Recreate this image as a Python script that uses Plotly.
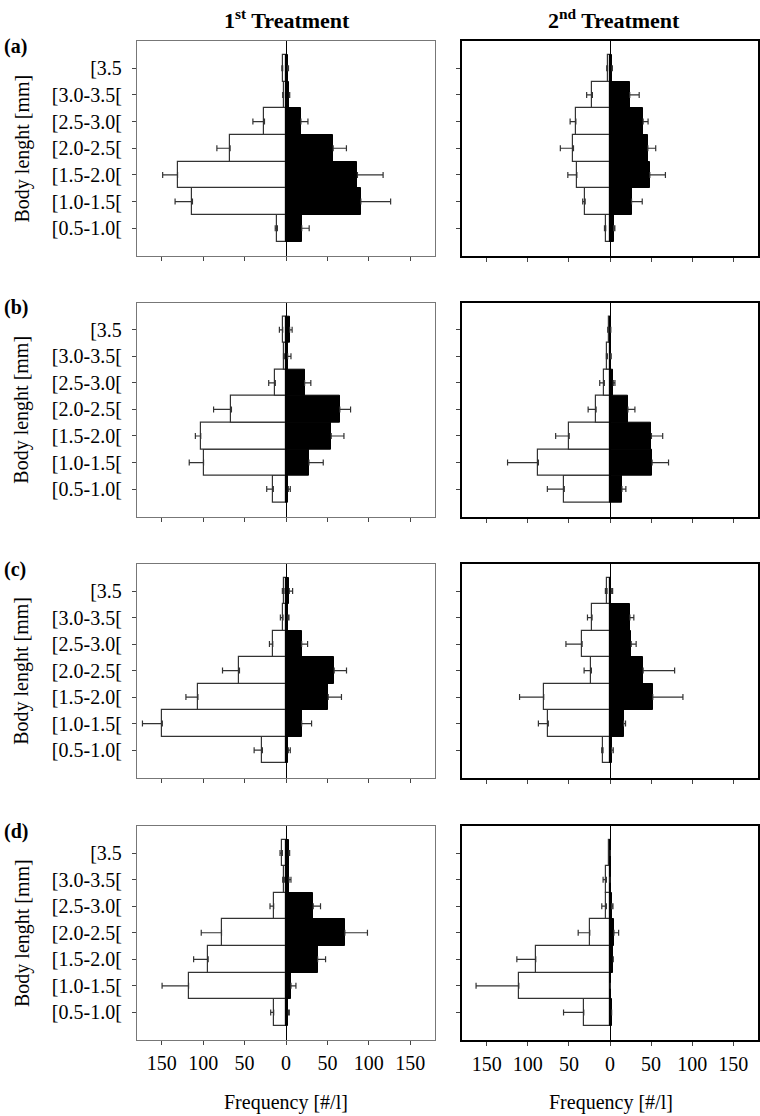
import plotly.graph_objects as go
from plotly.subplots import make_subplots

# Categories, bottom to top
categories = ["[0.5-1.0[", "[1.0-1.5[", "[1.5-2.0[", "[2.0-2.5[", "[2.5-3.0[", "[3.0-3.5[", "[3.5"]
row_labels = ["(a)", "(b)", "(c)", "(d)"]
col_titles = ["1<sup>st</sup> Treatment", "2<sup>nd</sup> Treatment"]
tick_vals = [-150, -100, -50, 0, 50, 100, 150]
tick_text = ["150", "100", "50", "0", "50", "100", "150"]

# Row (a)
a1_white = [10.4, 113, 131, 67.5, 26, 3, 4]
a1_white_err = [2.6, 21, 18, 16, 14, 1, 1]
a1_black = [19, 90.4, 86.3, 57, 18, 4, 2]
a1_black_err = [9, 36, 31, 16, 8.5, 0.5, 1]
a2_white = [5.2, 30.2, 40.3, 44.4, 41.5, 21.4, 3]
a2_white_err = [1.5, 3, 11, 16, 7, 7, 1]
a2_black = [4.4, 26.2, 48.4, 46, 40.3, 24, 2.4]
a2_black_err = [1.5, 13, 19, 9.6, 6, 11.5, 0.5]

# Row (b)
b1_white = [15.3, 99.6, 103, 65.9, 12.9, 2, 4]
b1_white_err = [8, 17.3, 6.5, 21.6, 8, 1, 4]
b1_black = [2.8, 27.7, 54.6, 65, 22.5, 2, 4.4]
b1_black_err = [2.4, 17.3, 15.4, 13, 7.5, 4, 3]
b2_white = [55.6, 87.1, 49.6, 16.9, 6.9, 3.2, 1.2]
b2_white_err = [20.6, 37.5, 16.5, 9.7, 5.6, 1.2, 1.6]
b2_black = [14.5, 51.2, 50.4, 21.8, 4, 0.5, 0.5]
b2_black_err = [4.8, 20, 13.7, 8.5, 2, 1, 0.5]

# Row (c)
c1_white = [28.5, 149.4, 106.4, 56.2, 16, 3.6, 2.4]
c1_white_err = [10, 24, 14.5, 20.5, 4, 3.2, 2]
c1_black = [2.8, 18.9, 51, 58.2, 18.9, 2.4, 4]
c1_black_err = [2.4, 12, 16, 14.9, 7.2, 1.2, 4]
c2_white = [8.5, 75, 80.6, 22.6, 33.9, 21.8, 3.6]
c2_white_err = [1.6, 12.1, 29.4, 8.9, 19.7, 5.6, 2]
c2_black = [2, 16.5, 52, 40.3, 25.8, 24.2, 1.6]
c2_black_err = [2, 2.4, 36.7, 38.3, 6, 4.8, 1.6]

# Row (d)
d1_white = [14.9, 117.7, 94, 77.9, 14.9, 2, 4.4]
d1_white_err = [3.6, 32, 17.6, 24.5, 4.4, 2, 2.8]
d1_black = [2.8, 6, 38.2, 71.1, 32.9, 3.6, 3.6]
d1_black_err = [1.2, 6, 9.6, 27.3, 8.8, 2.4, 0.8]
d2_white = [31.9, 110.9, 90.3, 24.6, 4.4, 4.4, 0.8]
d2_white_err = [24.6, 52, 23, 14.1, 5.6, 4, 0.5]
d2_black = [2, 0.4, 4, 4.8, 2, 0, 0.3]
d2_black_err = [0, 0, 0, 5.7, 1.6, 0, 0]

panels = [
    [(a1_white, a1_white_err, a1_black, a1_black_err), (a2_white, a2_white_err, a2_black, a2_black_err)],
    [(b1_white, b1_white_err, b1_black, b1_black_err), (b2_white, b2_white_err, b2_black, b2_black_err)],
    [(c1_white, c1_white_err, c1_black, c1_black_err), (c2_white, c2_white_err, c2_black, c2_black_err)],
    [(d1_white, d1_white_err, d1_black, d1_black_err), (d2_white, d2_white_err, d2_black, d2_black_err)],
]

W, H = 760, 1116
FONT = "Liberation Serif, Times New Roman, serif"

col_x = [(137, 435), (462, 758)]
row_y = [(41, 256), (302.7, 516.7), (564, 777.7), (826, 1040)]

fig = make_subplots(rows=4, cols=2)

err_style = dict(type="data", symmetric=False, color="#333333", thickness=1.2, width=3)

for r in range(4):
    for c in range(2):
        w, we, b, be = panels[r][c]
        fig.add_trace(go.Bar(
            x=[-v for v in w], y=categories, orientation="h",
            marker=dict(color="white", line=dict(color="#333333", width=1.2)),
            error_x=dict(array=[0] * len(we), arrayminus=we, **err_style),
            showlegend=False, width=1,
        ), row=r + 1, col=c + 1)
        fig.add_trace(go.Bar(
            x=b, y=categories, orientation="h",
            marker=dict(color="black", line=dict(color="black", width=1)),
            error_x=dict(array=be, arrayminus=[0] * len(be), **err_style),
            showlegend=False, width=1,
        ), row=r + 1, col=c + 1)

        idx = r * 2 + c + 1
        xa = "xaxis" if idx == 1 else f"xaxis{idx}"
        ya = "yaxis" if idx == 1 else f"yaxis{idx}"
        frame_color = "#777777" if c == 0 else "black"
        frame_w = 1.3 if c == 0 else 2
        x0, x1 = col_x[c]
        yt, yb = row_y[r]
        fig.layout[xa].update(
            domain=[x0 / W, x1 / W], range=[-180, 180],
            tickvals=tick_vals, ticktext=tick_text, showticklabels=(r == 3),
            ticks="outside", ticklen=4, tickcolor="#444444", tickwidth=1,
            showline=True, mirror=True, linecolor=frame_color, linewidth=frame_w,
            showgrid=False, zeroline=True, zerolinecolor="black", zerolinewidth=1.2,
            tickfont=dict(family=FONT, size=20, color="black"), ticklabelstandoff=1,
            fixedrange=True,
        )
        fig.layout[ya].update(
            domain=[1 - yb / H, 1 - yt / H], range=[-1.04, 7.02],
            type="category", categoryorder="array", categoryarray=categories,
            showticklabels=(c == 0),
            ticks="outside", ticklen=4, tickcolor="#444444", tickwidth=1,
            showline=True, mirror=True, linecolor=frame_color, linewidth=frame_w,
            showgrid=False, zeroline=False,
            tickfont=dict(family=FONT, size=20, color="black"), ticklabelstandoff=6,
            fixedrange=True,
        )

annotations = []
# Column titles
for c, title in enumerate(col_titles):
    cx = [287, 614][c]
    annotations.append(dict(text=f"<b>{title}</b>", x=cx / W, y=1 - 19 / H, xref="paper", yref="paper",
                            xanchor="center", yanchor="middle", showarrow=False,
                            font=dict(family=FONT, size=22, color="black")))
# Row labels and y titles
for r, lab in enumerate(row_labels):
    yt, yb = row_y[r]
    annotations.append(dict(text=f"<b>{lab}</b>", x=2 / W, y=1 - (yt + 5) / H, xref="paper", yref="paper",
                            xanchor="left", yanchor="middle", showarrow=False,
                            font=dict(family=FONT, size=20, color="black")))
    annotations.append(dict(text="Body lenght [mm]", x=22 / W, y=1 - ((yt + yb) / 2) / H,
                            xref="paper", yref="paper", xanchor="center", yanchor="middle",
                            textangle=-90, showarrow=False,
                            font=dict(family=FONT, size=20, color="black")))
# X titles
for c in range(2):
    cx = [286, 611][c]
    annotations.append(dict(text="Frequency [#/l]", x=cx / W, y=1 - 1102 / H, xref="paper", yref="paper",
                            xanchor="center", yanchor="middle", showarrow=False,
                            font=dict(family=FONT, size=20, color="black")))

fig.update_layout(
    width=W, height=H, margin=dict(l=0, r=0, t=0, b=0),
    paper_bgcolor="white", plot_bgcolor="white",
    barmode="overlay", bargap=0,
    annotations=annotations,
    font=dict(family=FONT, color="black"),
)

fig.write_html("out.html", config={"displayModeBar": False},
               post_script="document.body.style.margin='0';")
